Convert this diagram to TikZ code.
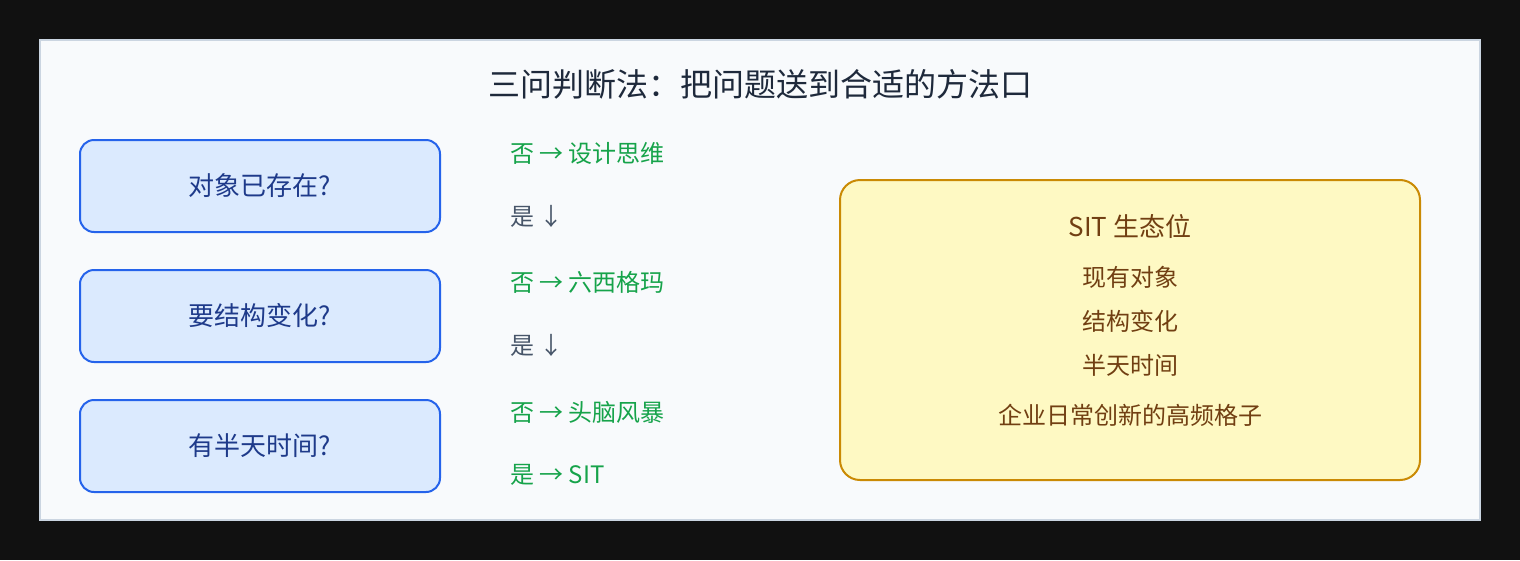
\documentclass[tikz,border=0pt]{standalone}
\usepackage{fontspec}
\setmainfont{Noto Sans CJK SC}
\definecolor{pagebg}{HTML}{111111}
\definecolor{panelbg}{HTML}{F8FAFC}
\definecolor{panelline}{HTML}{CBD5E1}
\definecolor{qfill}{HTML}{DBEAFE}
\definecolor{qline}{HTML}{2563EB}
\definecolor{qtext}{HTML}{1E3A8A}
\definecolor{notext}{HTML}{16A34A}
\definecolor{yestext}{HTML}{475569}
\definecolor{titletext}{HTML}{1E293B}
\definecolor{sitfill}{HTML}{FEF9C3}
\definecolor{sitline}{HTML}{CA8A04}
\definecolor{sittext}{HTML}{713F12}
\tikzset{
  qbox/.style={draw=qline, fill=qfill, line width=2pt, rounded corners=14pt,
    minimum width=360pt, minimum height=92pt, text=qtext, font=\fontsize{26}{30}\selectfont, inner sep=0pt},
  nolabel/.style={anchor=west, text=notext, font=\fontsize{24}{28}\selectfont, inner sep=0pt},
  yeslabel/.style={anchor=west, text=yestext, font=\fontsize{24}{28}\selectfont, inner sep=0pt},
  sitline/.style={text=sittext, font=\fontsize{24}{28}\selectfont, inner sep=0pt},
}
\begin{document}
\begin{tikzpicture}[x=1pt,y=-1pt]
\useasboundingbox (0,0) rectangle (1520,560);
\fill[pagebg] (0,0) rectangle (1520,560);
\filldraw[fill=panelbg, draw=panelline, line width=1.5pt] (40,40) rectangle (1480,520);
\node[text=titletext, font=\fontsize{32}{36}\selectfont, inner sep=0pt] (title) at (760,84) {三问判断法：把问题送到合适的方法口};
\node[qbox] (q1) at (260,186) {对象已存在?};
\node[qbox] (q2) at (260,316) {要结构变化?};
\node[qbox] (q3) at (260,446) {有半天时间?};
\node[nolabel] (n1) at (510,153) {否 → 设计思维};
\node[yeslabel] (y1) at (510,216) {是 ↓};
\node[nolabel] (n2) at (510,282) {否 → 六西格玛};
\node[yeslabel] (y2) at (510,345) {是 ↓};
\node[nolabel] (n3) at (510,412) {否 → 头脑风暴};
\node[nolabel] (y3) at (510,475) {是 → SIT};
\node[draw=sitline, fill=sitfill, line width=2pt, rounded corners=20pt,
  minimum width=580pt, minimum height=300pt, inner sep=0pt] (sit) at (1130,330) {};
\node[sitline, font=\fontsize{26}{30}\selectfont] (s0) at (1130,226) {SIT 生态位};
\node[sitline] (s1) at (1130,277) {现有对象};
\node[sitline] (s2) at (1130,321) {结构变化};
\node[sitline] (s3) at (1130,365) {半天时间};
\node[sitline] (s4) at (1130,415) {企业日常创新的高频格子};
\end{tikzpicture}
\end{document}
